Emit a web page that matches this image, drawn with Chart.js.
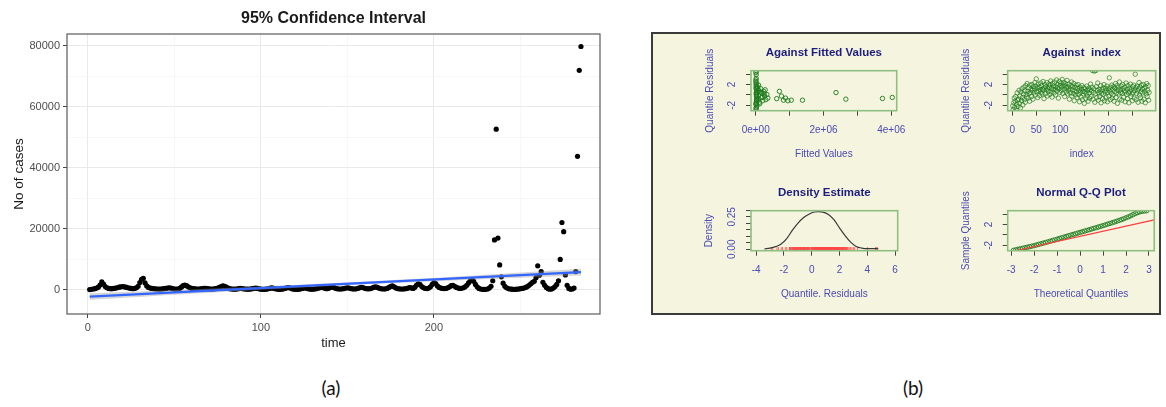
<!DOCTYPE html>
<html>
<head>
<meta charset="utf-8">
<script src="https://cdn.jsdelivr.net/npm/chart.js@4.4.1/dist/chart.umd.min.js"></script>
<style>
  html, body { margin: 0; padding: 0; background: #fff; width: 1166px; height: 407px; overflow: hidden; position: relative; }
  canvas { position: absolute; }
  #diagBox { position: absolute; left: 651px; top: 32px; width: 510px; height: 283px; box-sizing: border-box;
             border: 2px solid #3a3a3a; background: #F5F4DE; }
  .cap { position: absolute; top: 377px; font-family: Lato, 'Open Sans', sans-serif; font-size: 19px; line-height: 22px;
         color: #111; transform: translateX(-50%); }
</style>
</head>
<body>
<canvas id="cases" width="668" height="360" style="left:0;top:0"></canvas>
<div id="diagBox"></div>
<canvas id="fitted" width="225" height="132" style="left:690px;top:38px"></canvas>
<canvas id="byIndex" width="215" height="132" style="left:946px;top:38px"></canvas>
<canvas id="density" width="225" height="135" style="left:690px;top:175px"></canvas>
<canvas id="qq" width="215" height="135" style="left:946px;top:175px"></canvas>
<div class="cap" style="left:331px">(a)</div>
<div class="cap" style="left:913px">(b)</div>

<script>
// ---------- (a) daily cases with linear trend ----------
const cases = [
  100, 200, 300, 400, 600, 900, 1600, 2600, 1900, 1100,
  700, 500, 400, 400, 500, 600, 700, 900, 1000, 1100,
  1000, 900, 700, 600, 500, 400, 500, 700, 1200, 2400,
  3500, 3800, 2300, 1300, 800, 600, 500, 400, 350, 300,
  300, 300, 350, 400, 500, 600, 700, 600, 400, 300,
  250, 300, 500, 900, 1400, 1600, 1400, 1000, 700, 500,
  400, 350, 300, 300, 350, 400, 500, 550, 450, 350,
  300, 300, 350, 450, 600, 800, 1100, 1300, 1200, 900,
  600, 400, 300, 250, 250, 300, 400, 500, 450, 350,
  300, 250, 250, 300, 400, 550, 600, 500, 350, 250,
  200, 200, 250, 350, 500, 650, 600, 450, 300, 200,
  200, 250, 350, 500, 700, 750, 600, 400, 250, 200,
  200, 250, 350, 500, 650, 600, 450, 300, 250, 250,
  300, 400, 550, 700, 800, 700, 550, 400, 500, 800,
  1000, 800, 550, 400, 300, 300, 350, 450, 600, 700,
  600, 450, 350, 300, 350, 500, 700, 850, 750, 550,
  400, 350, 400, 550, 800, 1000, 900, 650, 450, 350,
  300, 350, 500, 800, 1200, 1300, 1000, 650, 450, 350,
  300, 300, 350, 450, 600, 750, 650, 500, 900, 1600,
  2000, 1700, 1100, 700, 500, 450, 600, 1000, 1800, 2400,
  2100, 1300, 800, 600, 500, 450, 500, 700, 1000, 1400,
  1500, 1200, 800, 600, 500, 550, 700, 1000, 1500, 2300,
  2900, 3300, 2800, 1800, 1000, 500, 300, 200, 150, 200,
  300, 600, 1200, 3000, 16400, 52700, 17000, 8200, 4300, 2200,
  1200, 700, 450, 300, 250, 200, 200, 250, 300, 400,
  500, 600, 800, 1100, 1500, 2000, 2500, 2800, 4000, 7900,
  4800, 6000, 2500, 1500, 800, 400, 250, 300, 600, 1100,
  1800, 3000, 10000, 22100, 19100, 4900, 1500, 500, 250, 300,
  600, 6000, 43800, 72000, 79800
];
const days = cases.map((_, i) => i + 1);

// fitted linear trend and its 95% band
const trendX = [1, 285];
const trendY = [-2200, 5800];
const bandX = [1, 50, 100, 143, 190, 240, 285];
const bandLow = [-3300, -1620, 40, 1350, 2570, 3730, 4700];
const bandHigh = [-1100, -20, 1140, 2250, 3670, 5330, 6900];

const timeGrid = [0, 50, 100, 150, 200, 250];
const timeLabels = [0, 100, 200];
const caseGrid = [0, 10000, 20000, 30000, 40000, 50000, 60000, 70000, 80000];
const caseLabels = [0, 20000, 40000, 60000, 80000];

// ---------- (b) residual diagnostics ----------
const residuals = [
  -2.1, -2.8, -1.5, -0.6, -2.4, -1.2, -0.3, -2.9, -1.8, 0.4, -1.0, -2.2, -0.8, 0.9, -1.6,
  -0.2, -2.5, 0.6, -1.1, 1.2, -0.5, -1.9, 0.2, 1.5, -0.9, 0.8, -1.4, 1.8, 0.1, -0.4,
  2.2, 0.7, -0.6, 1.4, 0.3, -1.2, 1.9, 0.5, 1.1, -0.3, 2.0, 0.9, -0.8, 1.6, 0.4,
  1.2, 2.4, 0.0, 1.7, 3.1, 0.6, 1.3, -0.5, 2.1, 0.8, 1.5, -0.1, 1.0, 2.3, 0.5,
  1.8, 0.2, 1.1, 2.6, 0.9, -0.7, 1.4, 2.0, 0.3, 1.6, 1.0, 2.4, -0.2, 1.2, 0.7,
  2.1, 1.5, 0.1, 1.9, 2.7, 0.6, 1.3, -0.4, 2.2, 1.0, 1.7, 0.4, 2.5, 1.1, 0.0,
  1.6, 2.9, 0.8, 1.4, 2.0, -0.6, 1.2, 2.6, 0.5, 1.8, 2.3, 0.9, 1.5, 3.0, 0.3,
  1.9, 2.4, 1.1, -0.3, 1.7, 2.2, 0.6, 1.3, 2.8, 0.2, 1.5, 0.9, 2.1, -0.8, 1.2,
  0.4, 1.8, 2.5, -0.2, 1.0, 1.6, 0.3, 2.2, -1.1, 0.8, 1.4, 0.0, 1.9, 0.6, -0.5,
  1.3, 2.0, 0.1, 0.9, -1.3, 1.5, 0.5, -0.4, 1.1, 1.8, -0.9, 0.7, 0.2, 1.4, -1.6,
  0.6, 1.2, -0.7, 0.3, 1.7, -0.2, 0.9, -1.2, 1.3, 0.4, -0.6, 1.0, 2.1, -0.3, 0.8,
  1.5, 4.7, -0.8, 0.5, 1.2, 4.6, -1.4, 0.2, 4.7, 1.6, -0.5, 0.9, 2.3, -1.0, 0.4,
  1.1, -0.3, 0.7, 1.8, -1.5, 0.3, 1.0, -0.7, 1.4, 0.1, 2.0, -1.1, 0.6, 1.3, -0.4,
  0.9, 1.7, -1.3, 0.5, 1.2, -0.2, 3.3, 0.8, -0.9, 1.5, 0.3, 1.9, -0.6, 1.1, 0.0,
  1.6, -1.2, 0.7, 1.3, 2.2, -0.5, 0.4, 1.8, -1.6, 0.9, 1.4, 0.2, 2.5, -0.8, 1.0,
  0.5, 1.7, -1.0, 0.3, 2.0, 1.2, -0.4, 0.8, 1.5, -1.3, 0.6, 2.3, 0.1, 1.1, -0.7,
  1.8, 0.4, -1.5, 1.3, 0.7, 2.1, -0.3, 1.0, 0.2, -1.1, 1.6, 0.5, 1.9, -0.6, 0.9,
  4.0, 1.4, -0.9, 0.3, 1.7, 0.8, -1.4, 1.2, 2.4, 0.0, 1.5, -0.5, 0.6, 1.9, -1.2,
  1.1, 0.4, 2.0, -0.8, 1.3, 0.7, -1.5, 1.6, 0.2, 2.2, -0.3, 0.9, 1.8, -1.0, 0.5
];
const obsIndex = residuals.map((_, i) => i + 1);

const fittedX = [
  12000, 18000, 25000, 8000, 30000, 15000, 22000, 5000, 28000, 10000,
  35000, 20000, 14000, 26000, 9000, 32000, 17000, 24000, 6000, 38000,
  13000, 21000, 11000, 27000, 16000, 40000, 19000, 7000, 33000, 23000,
  60000, 75000, 90000, 110000, 130000, 150000, 170000, 190000, 210000, 240000,
  260000, 280000, 300000, 330000, 360000, 85000, 120000, 160000, 200000, 250000,
  620000, 700000, 760000, 820000, 880000, 950000, 1050000, 1380000, 2370000, 2660000,
  3740000, 4030000
];
const fittedResid = [
  -2.9, -2.4, 4.6, -1.8, 0.5, 3.9, -1.2, 2.6, -0.6, 1.4,
  -2.1, 0.1, 3.2, -0.3, 2.0, -1.5, 1.1, -0.9, 4.3, 0.8,
  -2.6, 1.7, 2.9, -0.1, 0.4, -1.0, 2.3, -1.6, 1.3, 0.2,
  1.5, -0.8, 0.9, -1.4, 0.6, 1.2, -0.5, 0.3, -1.1, 0.7,
  -0.2, 1.0, -0.9, 0.1, -0.6, 1.9, -1.7, 0.5, -0.4, 0.2,
  -0.7, 0.7, -0.2, -1.0, -0.6, -1.1, -1.0, -1.0, 0.47, -0.8,
  -0.67, -0.47
];

const densX = [-3.4, -3.0, -2.6, -2.2, -1.8, -1.4, -1.0, -0.6, -0.2, 0.2, 0.5,
               0.8, 1.2, 1.6, 2.0, 2.4, 2.8, 3.2, 3.6, 4.0, 4.4, 4.8];
const densY = [0.003, 0.009, 0.020, 0.040, 0.082, 0.145, 0.200, 0.243, 0.270, 0.287, 0.290,
               0.286, 0.268, 0.228, 0.165, 0.105, 0.055, 0.022, 0.009, 0.005, 0.005, 0.004];

const qqTheo = [
  -2.9, -2.8, -2.7, -2.6, -2.5, -2.4, -2.3, -2.2, -2.1, -2.0,
  -1.9, -1.8, -1.7, -1.6, -1.5, -1.4, -1.3, -1.2, -1.1, -1.0,
  -0.9, -0.8, -0.7, -0.6, -0.5, -0.4, -0.3, -0.2, -0.1, 0.0,
  0.1, 0.2, 0.3, 0.4, 0.5, 0.6, 0.7, 0.8, 0.9, 1.0,
  1.1, 1.2, 1.3, 1.4, 1.5, 1.6, 1.7, 1.8, 1.9, 2.0,
  2.1, 2.2, 2.3, 2.4, 2.5, 2.6, 2.7, 2.8, 2.9
];
const qqSample = [
  -2.95, -2.85, -2.75, -2.65, -2.55, -2.45, -2.35, -2.25, -2.15, -2.05,
  -1.92, -1.80, -1.68, -1.56, -1.44, -1.32, -1.19, -1.06, -0.93, -0.80,
  -0.67, -0.54, -0.41, -0.28, -0.15, -0.02, 0.11, 0.24, 0.37, 0.50,
  0.63, 0.76, 0.89, 1.02, 1.15, 1.28, 1.41, 1.54, 1.67, 1.80,
  1.94, 2.08, 2.22, 2.36, 2.50, 2.65, 2.80, 2.96, 3.12, 3.30,
  3.48, 3.68, 3.90, 4.12, 4.30, 4.45, 4.56, 4.62, 4.66
];
const qqLineX = [-3.15, 3.23];
const qqLineY = [-3.35, 2.9];

const residTicks = [-2, 0, 2, 4];
const residTickLabels = ['-2', '', '2', ''];
const fittedTicks = [0, 1e6, 2e6, 3e6, 4e6];
const fittedTickLabels = ['0e+00', '', '2e+06', '', '4e+06'];
const indexTicks = [0, 50, 100, 150, 200, 250];
const indexTickLabels = ['0', '50', '100', '', '200', ''];
const densXTicks = [-4, -2, 0, 2, 4, 6];
const densXTickLabels = ['-4', '-2', '0', '2', '4', '6'];
const densYTicks = [0, 0.05, 0.10, 0.15, 0.20, 0.25, 0.30];
const densYTickLabels = ['0.00', '', '', '', '', '0.25', ''];
const qqTicks = [-3, -2, -1, 0, 1, 2, 3];
const qqTickLabels = ['-3', '-2', '-1', '0', '1', '2', '3'];

// ---------- shared helpers ----------
const FONT = "'Liberation Sans', Arial, Helvetica, sans-serif";
Chart.defaults.font.family = FONT;
const pairs = (xs, ys) => xs.map((x, i) => ({ x, y: ys[i] }));

// outline of the plotting region
const framePlugin = {
  id: 'frame',
  afterDatasetsDraw(chart, args, opts) {
    const { ctx, chartArea: a } = chart;
    ctx.save();
    ctx.strokeStyle = opts.color;
    ctx.lineWidth = opts.width;
    ctx.strokeRect(a.left, a.top, a.right - a.left, a.bottom - a.top);
    ctx.restore();
  }
};

// y tick labels written parallel to the axis, base-graphics style
const sideLabels = {
  id: 'sideLabels',
  afterDraw(chart, args, opts) {
    const s = chart.scales.y, ctx = chart.ctx;
    ctx.save();
    ctx.fillStyle = opts.color;
    ctx.font = opts.size + 'px ' + FONT;
    ctx.textAlign = 'center';
    ctx.textBaseline = 'middle';
    s.ticks.forEach((t, i) => {
      const text = opts.labels[i];
      if (!text) return;
      ctx.save();
      ctx.translate(s.left + s.width - opts.offset, s.getPixelForValue(t.value));
      ctx.rotate(-Math.PI / 2);
      ctx.fillText(text, 0, 0);
      ctx.restore();
    });
    ctx.restore();
  }
};

// ---------- (a) ----------
const isMajorY = v => caseLabels.includes(v);
const isMajorX = v => timeLabels.includes(v);

new Chart(document.getElementById('cases'), {
  type: 'scatter',
  data: {
    datasets: [
      { type: 'line', data: pairs(trendX, trendY), borderColor: '#3366FF', borderWidth: 2.2,
        pointRadius: 0, fill: false, order: 1 },
      { type: 'line', data: pairs(bandX, bandHigh), borderWidth: 0, borderColor: 'rgba(0,0,0,0)',
        pointRadius: 0, tension: 0.3, fill: '+1', backgroundColor: 'rgba(153,153,153,0.4)', order: 2 },
      { type: 'line', data: pairs(bandX, bandLow), borderWidth: 0, borderColor: 'rgba(0,0,0,0)',
        pointRadius: 0, tension: 0.3, fill: false, order: 3 },
      { data: pairs(days, cases), pointRadius: 2.6, backgroundColor: '#000', borderWidth: 0, order: 4 }
    ]
  },
  options: {
    responsive: false, animation: false, events: [],
    layout: { padding: { left: 0, right: 68, top: 0, bottom: 0 } },
    plugins: {
      legend: { display: false }, tooltip: { enabled: false },
      title: { display: true, text: '95% Confidence Interval', fullSize: false, color: '#1a1a1a',
               font: { size: 16, weight: 'bold' }, padding: { top: 8.7, bottom: 6.1 } },
      frame: { color: '#5a5a5a', width: 1.2 }
    },
    scales: {
      x: {
        type: 'linear', min: -12.1, max: 296,
        afterBuildTicks: s => { s.ticks = timeGrid.map(v => ({ value: v })); },
        afterFit: s => { s.height = 46; },
        ticks: { autoSkip: false, maxRotation: 0, padding: 3, color: '#4d4d4d', font: { size: 11 },
                 callback: v => isMajorX(v) ? String(v) : '' },
        grid: { color: c => (c.tick && isMajorX(c.tick.value)) ? '#e9e9e9' : '#f4f4f4',
                lineWidth: c => (c.tick && isMajorX(c.tick.value)) ? 1 : 0.7,
                tickColor: c => (c.tick && isMajorX(c.tick.value)) ? '#444' : 'rgba(0,0,0,0)',
                tickLength: 4 },
        border: { display: false },
        title: { display: true, text: 'time', color: '#1a1a1a', font: { size: 13 }, padding: { top: 0, bottom: 8.9 } }
      },
      y: {
        type: 'linear', min: -7900, max: 83900,
        afterBuildTicks: s => { s.ticks = caseGrid.map(v => ({ value: v })); },
        afterFit: s => { s.width = 67; },
        ticks: { autoSkip: false, padding: 3, color: '#4d4d4d', font: { size: 11 },
                 callback: v => isMajorY(v) ? String(v) : '' },
        grid: { color: c => (c.tick && isMajorY(c.tick.value)) ? '#e9e9e9' : '#f4f4f4',
                lineWidth: c => (c.tick && isMajorY(c.tick.value)) ? 1 : 0.7,
                tickColor: c => (c.tick && isMajorY(c.tick.value)) ? '#444' : 'rgba(0,0,0,0)',
                tickLength: 4 },
        border: { display: false },
        title: { display: true, text: 'No of cases', color: '#1a1a1a', font: { size: 13.5 }, padding: { top: 11.5 } }
      }
    }
  },
  plugins: [framePlugin]
});

// ---------- (b) ----------
const NAVY = '#1d1d80';
const LABEL = '#4a4ab6';
const BOX = '#8fbf80';
const GREEN = '#1a7a1a';

function diagPanel(id, o) {
  return new Chart(document.getElementById(id), {
    type: 'scatter',
    data: { datasets: o.datasets },
    options: {
      responsive: false, animation: false, events: [],
      layout: { padding: { left: 0, right: o.padRight, top: 0, bottom: 0 } },
      plugins: {
        legend: { display: false }, tooltip: { enabled: false },
        title: { display: true, text: o.title, fullSize: false, color: NAVY,
                 font: { size: 11.5, weight: 'bold' }, padding: { top: o.titleTop, bottom: o.titleBottom } },
        frame: { color: BOX, width: 1.6 },
        sideLabels: { labels: o.yLabels, color: LABEL, size: 10, offset: 18.5 }
      },
      scales: {
        x: {
          type: 'linear', min: o.xMin, max: o.xMax,
          afterBuildTicks: s => { s.ticks = o.xTicks.map(v => ({ value: v })); },
          afterFit: s => { s.height = 59.3; },
          ticks: { autoSkip: false, maxRotation: 0, padding: 9, color: LABEL, font: { size: 10 },
                   callback: (v, i) => o.xLabels[i] },
          grid: { drawOnChartArea: false, drawTicks: true, tickLength: 5, tickColor: '#444', color: 'rgba(0,0,0,0)' },
          border: { display: false },
          title: { display: true, text: o.xTitle, color: LABEL, font: { size: 10 }, padding: { top: 0, bottom: 10 } }
        },
        y: {
          type: 'linear', min: o.yMin, max: o.yMax,
          afterBuildTicks: s => { s.ticks = o.yTicks.map(v => ({ value: v })); },
          afterFit: s => { s.width = o.yWidth; },
          ticks: { display: false },
          grid: { drawOnChartArea: false, drawTicks: true, tickLength: 5, tickColor: '#444', color: 'rgba(0,0,0,0)' },
          border: { display: false },
          title: { display: true, text: o.yTitle, color: LABEL, font: { size: 10 }, padding: { top: o.yTitlePad } }
        }
      }
    },
    plugins: [framePlugin, sideLabels]
  });
}

const openCircles = (data, color) => ({
  data, pointStyle: 'circle', pointRadius: 2.2, borderWidth: 0.9,
  borderColor: color, backgroundColor: 'rgba(0,0,0,0)'
});

diagPanel('fitted', {
  title: 'Against Fitted Values', titleTop: 8.1, titleBottom: 10.8,
  padRight: 17.3, yWidth: 61, yTitlePad: 14,
  xMin: -138000, xMax: 4160000, xTicks: fittedTicks, xLabels: fittedTickLabels, xTitle: 'Fitted Values',
  yMin: -3.02, yMax: 4.67, yTicks: residTicks, yLabels: residTickLabels, yTitle: 'Quantile Residuals',
  datasets: [openCircles(pairs(fittedX, fittedResid), GREEN)]
});

diagPanel('byIndex', {
  title: 'Against  index', titleTop: 8.1, titleBottom: 10.8,
  padRight: 5.3, yWidth: 61.7, yTitlePad: 14.7,
  xMin: -9.6, xMax: 298.7, xTicks: indexTicks, xLabels: indexTickLabels, xTitle: 'index',
  yMin: -3.02, yMax: 4.67, yTicks: residTicks, yLabels: residTickLabels, yTitle: 'Quantile Residuals',
  datasets: [openCircles(pairs(obsIndex, residuals), 'rgba(26,122,26,0.75)')]
});

diagPanel('density', {
  title: 'Density Estimate', titleTop: 10.8, titleBottom: 11.1,
  padRight: 17.3, yWidth: 61, yTitlePad: 13.3,
  xMin: -4.37, xMax: 6.19, xTicks: densXTicks, xLabels: densXTickLabels, xTitle: 'Quantile. Residuals',
  yMin: -0.011, yMax: 0.297, yTicks: densYTicks, yLabels: densYTickLabels, yTitle: 'Density',
  datasets: [
    { type: 'line', data: pairs(densX, densY), borderColor: '#3a3a3a', borderWidth: 1.2,
      pointRadius: 0, cubicInterpolationMode: 'monotone', fill: false },
    { data: residuals.map(r => ({ x: r, y: 0 })), pointStyle: 'line', rotation: 90, pointRadius: 2.2,
      borderWidth: 1, borderColor: 'rgba(255,70,70,0.8)', backgroundColor: 'rgba(255,70,70,0.8)' }
  ]
});

diagPanel('qq', {
  title: 'Normal Q-Q Plot', titleTop: 10.8, titleBottom: 11.1,
  padRight: 5.3, yWidth: 61.7, yTitlePad: 14.7,
  xMin: -3.15, xMax: 3.23, xTicks: qqTicks, xLabels: qqTickLabels, xTitle: 'Theoretical Quantiles',
  yMin: -3.02, yMax: 4.67, yTicks: residTicks, yLabels: residTickLabels, yTitle: 'Sample Quantiles',
  datasets: [
    { type: 'line', data: pairs(qqLineX, qqLineY), borderColor: '#ff3b3b', borderWidth: 1.1,
      pointRadius: 0, fill: false, order: 0 },
    Object.assign(openCircles(pairs(qqTheo, qqSample), GREEN), { order: 1 })
  ]
});
</script>
</body>
</html>
